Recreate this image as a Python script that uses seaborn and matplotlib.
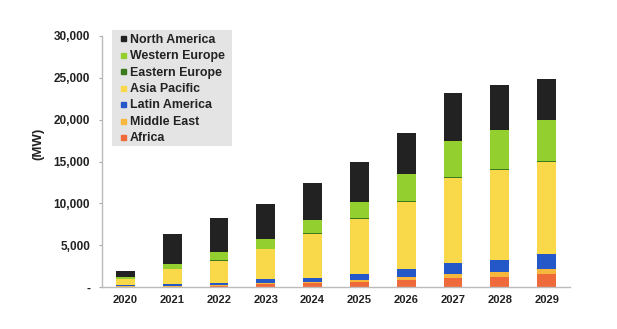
import matplotlib
matplotlib.use("Agg")
import matplotlib.pyplot as plt
from matplotlib.lines import Line2D
from matplotlib.patches import Rectangle
import numpy as np
import pandas as pd
import seaborn as sns

years = ["2020", "2021", "2022", "2023", "2024", "2025", "2026", "2027", "2028", "2029"]
africa = [50, 50, 150, 350, 440, 600, 840, 1100, 1230, 1550]
middle_east = [50, 50, 80, 100, 120, 250, 320, 450, 520, 600]
latin_america = [100, 250, 280, 480, 550, 700, 1030, 1280, 1450, 1800]
asia_pacific = [750, 1750, 2640, 3620, 5250, 6600, 8000, 10250, 10800, 10950]
eastern_europe = [30, 50, 50, 50, 50, 60, 70, 100, 100, 120]
western_europe = [220, 650, 950, 1150, 1650, 2000, 3200, 4300, 4650, 4950]
north_america = [700, 3500, 4130, 4150, 4400, 4700, 4900, 5720, 5450, 4850]

regions = ["Africa", "Middle East", "Latin America", "Asia Pacific",
           "Eastern Europe", "Western Europe", "North America"]
series = [africa, middle_east, latin_america, asia_pacific,
          eastern_europe, western_europe, north_america]
colors = ["#ef6a3a", "#f7b73c", "#2457c8", "#f9d84a",
          "#3b7a1f", "#93cf2f", "#222222"]

yticks = [0, 5000, 10000, 15000, 20000, 25000, 30000]
ytick_labels = ["-" if v == 0 else f"{v:,}" for v in yticks]

sns.set_style("white")
plt.rcParams["font.family"] = ["Liberation Sans", "DejaVu Sans"]

W, H = 617, 329
fig = plt.figure(figsize=(W / 100, H / 100), dpi=100)
ax = fig.add_axes([102 / W, 1 - 287 / H, 468 / W, 251 / H])

cum = np.cumsum(np.array(series), axis=0)
for i in reversed(range(len(regions))):
    df = pd.DataFrame({"year": years, "value": cum[i]})
    sns.barplot(data=df, x="year", y="value", color=colors[i], width=0.4,
                saturation=1, ax=ax, linewidth=0)

ax.set_xlim(-0.5, len(years) - 0.5)
ax.set_ylim(0, 30000)
ax.set_yticks(yticks)
ax.set_yticklabels(ytick_labels, fontsize=8.5, fontweight="bold", color="#222222")
ax.set_xticks(range(len(years)))
ax.set_xticklabels(years, fontsize=8, fontweight="bold", color="#222222")
ax.set_xticks(np.arange(-0.5, len(years)), minor=True)
ax.tick_params(axis="x", which="major", length=0, pad=6)
ax.tick_params(axis="x", which="minor", length=4, direction="inout", color="#aaaaaa", width=0.8)
ax.tick_params(axis="y", which="major", length=2.5, direction="out", color="#aaaaaa", width=0.8, pad=6, left=True)

for s in ["top", "right"]:
    ax.spines[s].set_visible(False)
for s in ["left", "bottom"]:
    ax.spines[s].set_color("#bbbbbb")
    ax.spines[s].set_linewidth(1.0)

ax.set_xlabel("")
ax.set_ylabel("(MW)", fontsize=9.5, fontweight="bold", color="#222222")
ax.yaxis.set_label_coords(-(102 - 44) / 468, (287 - 144) / 251)

# legend background box
fig.patches.append(Rectangle((111.7 / W, 1 - 146 / H), 120 / W, 116 / H,
                             transform=fig.transFigure, facecolor="#e4e4e4",
                             edgecolor="none", zorder=2))

handles = [Line2D([0], [0], marker="s", linestyle="", markersize=3.6,
                  markerfacecolor=colors[i], markeredgecolor=colors[i])
           for i in reversed(range(len(regions)))]
labels = list(reversed(regions))
leg = fig.legend(handles, labels, loc="upper left",
                 bbox_to_anchor=(111.7 / W, 1 - 31.2 / H),
                 bbox_transform=fig.transFigure,
                 frameon=False, prop={"weight": "bold", "size": 8.9},
                 handlelength=1.46, handletextpad=-0.2, labelspacing=0.36,
                 borderpad=0.2, borderaxespad=0)
leg.set_zorder(3)
for t in leg.get_texts():
    t.set_color("#222222")

fig.savefig("out.png", dpi=100, facecolor="white")
